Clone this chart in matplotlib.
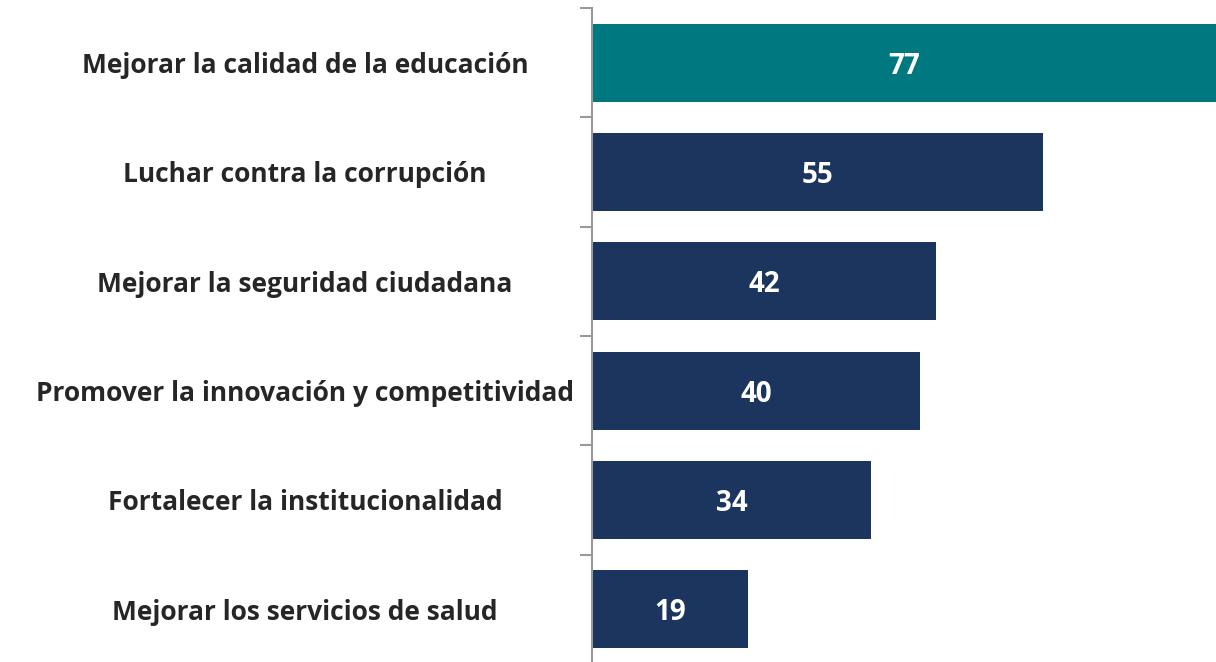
import matplotlib.pyplot as plt
import matplotlib.transforms as mtransforms

# === Data ===
categories = [
    'Mejorar la calidad de la educación',
    'Luchar contra la corrupción',
    'Mejorar la seguridad ciudadana',
    'Promover la innovación y competitividad',
    'Fortalecer la institucionalidad',
    'Mejorar los servicios de salud',
]
values = [77, 55, 42, 40, 34, 19]
colors = ['#00787F', '#1C355E', '#1C355E', '#1C355E', '#1C355E', '#1C355E']

plt.rcParams['font.family'] = ['Open Sans', 'DejaVu Sans']

fig = plt.figure(figsize=(12.16, 6.62), dpi=100)
ax = fig.add_axes([592 / 1216, -0.003, 1 - 592 / 1216, 0.991])

y = list(range(len(categories)))
ax.barh(y, values, height=0.715, color=colors)
ax.set_ylim(len(categories) - 0.5, -0.5)
ax.set_xlim(0, 76.1)

# value labels inside bars (centre of visible part)
for yi, v in zip(y, values):
    xc = min(v, 76.1) / 2
    ax.text(xc, yi, str(v), ha='center', va='center_baseline', color='white',
            fontsize=20, fontweight='bold')

# category labels, centred in the left area
trans = mtransforms.blended_transform_factory(fig.transFigure, ax.transData)
for yi, c in zip(y, categories):
    ax.text(305 / 1216, yi, c, transform=trans, ha='center', va='center_baseline',
            color='#262626', fontsize=19, fontweight='bold', clip_on=False)

# axis styling
for s in ['top', 'right', 'bottom']:
    ax.spines[s].set_visible(False)
ax.spines['left'].set_color('#999999')
ax.spines['left'].set_linewidth(1.5)
ax.set_xticks([])
ax.set_yticks([])
ax.set_yticks([i - 0.5 for i in range(len(categories) + 1)], minor=True)
ax.tick_params(axis='y', which='minor', length=9, width=1.5, color='#999999',
               direction='out', labelleft=False)

fig.savefig('out.png', dpi=100)
